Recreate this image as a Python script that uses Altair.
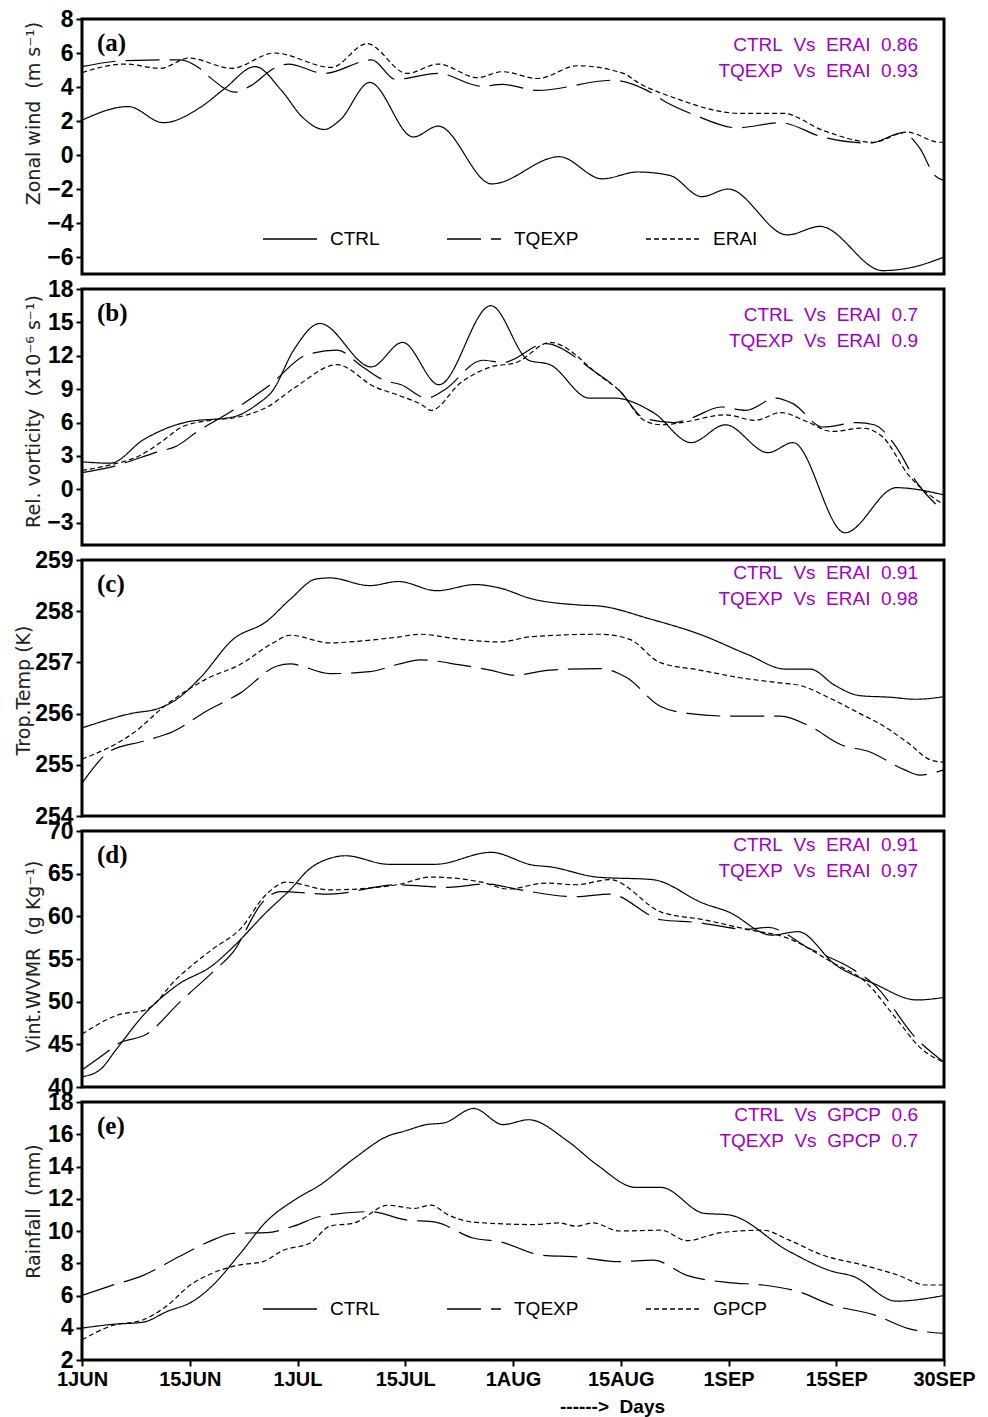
import altair as alt
import pandas as pd

# ---------------- data (day index: 0 = 1JUN ... 121 = 30SEP) ----------------
SERIES = ["CTRL", "TQEXP", "ERAI"]
SERIES_E = ["CTRL", "TQEXP", "GPCP"]

# (a) Zonal wind
A_CTRL_D = [0, 6.5, 11.4, 16.6, 20, 24.3, 28, 31, 34, 36.2, 40.4, 46.5, 50, 57.5, 67, 73, 78, 82.5, 87, 90.7, 99, 103.6, 112.4, 116.6, 121]
A_CTRL_V = [2.05, 2.85, 1.9, 2.8, 3.9, 5.2, 3.8, 2.2, 1.5, 2.05, 4.27, 1.06, 1.7, -1.7, -0.1, -1.4, -1.0, -1.2, -2.45, -2.0, -4.7, -4.2, -6.8, -6.6, -6.0]
A_TQ_D = [0, 6, 13.8, 16.5, 18, 21.5, 23.6, 27, 29, 34, 40.7, 44, 50, 56, 59, 64, 74.5, 79.3, 82, 86, 92, 98, 104, 110.6, 115.2, 117.6, 119.7, 121]
A_TQ_V = [5.2, 5.55, 5.6, 5.1, 4.55, 3.7, 4.05, 5.1, 5.35, 4.8, 5.6, 4.45, 4.8, 4.05, 4.15, 3.8, 4.4, 3.8, 3.1, 2.35, 1.6, 1.9, 1.05, 0.7, 1.3, 0.4, -1.2, -1.5]
A_ER_D = [0, 6, 11, 15, 21, 27, 35, 40, 45.6, 50, 55.5, 59, 64, 69.5, 76, 78.3, 82.9, 92.4, 98.4, 104, 111, 115.8, 120.4, 121]
A_ER_V = [4.85, 5.35, 5.1, 5.7, 5.1, 6.0, 5.15, 6.55, 4.8, 5.35, 4.55, 4.9, 4.5, 5.25, 4.8, 4.2, 3.4, 2.45, 2.45, 1.45, 0.75, 1.35, 0.75, 0.75]

# (b) Relative vorticity
B_CTRL_D = [0, 4, 8.6, 14.7, 21.2, 24.5, 26.8, 29.7, 33.4, 40.6, 45, 50.1, 57.4, 62.7, 65.7, 71.2, 74.7, 80.2, 85.5, 90.3, 96.3, 99.8, 107.1, 114.3, 121]
B_CTRL_V = [2.47, 2.35, 4.45, 6.05, 6.5, 7.6, 8.9, 12.5, 14.9, 11.0, 13.2, 9.4, 16.5, 11.6, 11.2, 8.2, 8.2, 6.9, 4.2, 5.8, 3.3, 4.2, -3.9, 0.15, -0.5]
B_TQ_D = [0, 4, 10.5, 13.3, 16.1, 21.2, 26.4, 31.6, 35.8, 39.4, 42.4, 44.8, 48.4, 50.8, 56.2, 59.1, 65.1, 71.7, 75.4, 78.9, 83.1, 85.5, 89.7, 93.2, 97.4, 99.8, 104, 108.8, 111.2, 114.3, 117.2, 121]
B_TQ_V = [1.5, 2.0, 3.35, 3.9, 5.15, 7.1, 9.4, 12.1, 12.5, 11.0, 9.8, 9.4, 8.2, 8.9, 11.6, 11.4, 13.1, 10.7, 8.9, 6.4, 6.0, 6.4, 7.4, 7.1, 8.2, 7.7, 5.6, 6.0, 5.8, 3.8, 0.6, -2.0]
B_ER_D = [0, 4, 8, 11, 14, 18, 22, 26, 30, 35.8, 41.1, 44.2, 47.7, 49, 53.2, 57.4, 61, 65.7, 72.9, 75.4, 78.9, 81.3, 84.2, 90.3, 94.5, 98.1, 101.7, 105.3, 109.5, 112.4, 116, 121]
B_ER_V = [1.7, 2.2, 3.0, 4.2, 5.6, 6.2, 6.5, 7.4, 9.2, 11.2, 9.2, 8.5, 7.6, 7.1, 9.6, 11.0, 11.4, 13.2, 10.1, 8.9, 6.2, 5.8, 6.0, 6.7, 6.2, 6.9, 6.1, 5.2, 5.5, 4.7, 1.3, -1.4]

# (c) Tropospheric temperature
C_CTRL_D = [0, 7.2, 10.5, 13.3, 16.6, 21.2, 25.9, 29.2, 32.9, 34.8, 40.4, 44.4, 49.8, 55.2, 58.7, 62.9, 69.9, 72.7, 79.7, 86.7, 93.5, 98.7, 102.2, 105.7, 109.2, 113.4, 117, 121]
C_CTRL_V = [255.72, 256.01, 256.09, 256.28, 256.7, 257.45, 257.8, 258.23, 258.63, 258.65, 258.5, 258.58, 258.4, 258.52, 258.45, 258.25, 258.12, 258.1, 257.85, 257.55, 257.15, 256.87, 256.87, 256.55, 256.35, 256.32, 256.28, 256.33]
C_TQ_D = [0, 4, 8.6, 12.8, 17.5, 22.2, 27.4, 29.2, 34.8, 40.4, 44.6, 47.4, 53.1, 57.3, 60.6, 65.7, 72.7, 76.5, 81.1, 85.3, 91, 98, 102.2, 106.4, 110.6, 115.5, 117.6, 121]
C_TQ_V = [254.64, 255.27, 255.46, 255.65, 256.05, 256.4, 256.93, 256.97, 256.78, 256.82, 256.97, 257.05, 256.95, 256.85, 256.75, 256.85, 256.88, 256.7, 256.15, 256.0, 255.95, 255.95, 255.75, 255.4, 255.25, 254.9, 254.8, 254.9]
C_ER_D = [0, 7.2, 11.9, 17.5, 22.2, 26.8, 29.2, 34.8, 37.6, 44.6, 47.4, 53.1, 58.7, 62.9, 72.7, 76.9, 81.1, 86.7, 92.4, 98, 100.8, 105, 109.2, 112, 116.2, 119, 121]
C_ER_V = [255.11, 255.62, 256.18, 256.68, 256.96, 257.38, 257.53, 257.38, 257.4, 257.5, 257.55, 257.45, 257.4, 257.5, 257.55, 257.45, 257.0, 256.85, 256.7, 256.6, 256.55, 256.3, 256.0, 255.8, 255.4, 255.1, 255.05]

# (d) Vertically integrated water vapour mixing ratio
D_CTRL_D = [0, 2.5, 4.9, 8.6, 13.3, 18.4, 21.2, 25.9, 29.2, 32, 34.8, 37, 43, 49.6, 57.4, 63.3, 65.7, 72.3, 80.1, 87.3, 90.8, 96.8, 100.5, 105.8, 111.2, 117.2, 121]
D_CTRL_V = [41.2, 42.0, 44.5, 48.4, 51.9, 54.3, 56.4, 60.5, 63.1, 65.6, 66.8, 67.1, 66.1, 66.1, 67.5, 66.0, 65.8, 64.6, 64.3, 61.5, 60.5, 57.8, 58.2, 54.3, 52.1, 50.2, 50.5]
D_TQ_D = [0, 3.5, 4.9, 9.1, 13.8, 18.4, 21.2, 25.4, 27.8, 34.8, 44.2, 51.4, 56.7, 61.5, 69.3, 74.1, 81.3, 86.1, 93.2, 96.3, 102.2, 108.2, 111.2, 117.2, 121]
D_TQ_V = [42.0, 44.1, 45.0, 46.2, 50.0, 53.5, 55.8, 61.7, 62.9, 62.6, 63.7, 63.4, 63.8, 63.1, 62.3, 62.6, 59.6, 59.3, 58.5, 58.7, 56.2, 53.8, 52.0, 45.6, 42.9]
D_ER_D = [0, 4.9, 9.1, 13.3, 18.4, 22.2, 25.9, 28.7, 34.8, 44.2, 49, 56.1, 59.8, 65.1, 69.3, 74.1, 81.3, 87.3, 93.2, 99.2, 105.3, 110, 114.3, 117.8, 121]
D_ER_V = [46.2, 48.4, 49.1, 52.7, 56.2, 58.5, 62.6, 64.0, 63.1, 63.7, 64.6, 64.0, 63.2, 63.9, 63.7, 64.3, 60.5, 59.6, 58.5, 57.4, 54.6, 52.3, 48.0, 44.5, 42.9]

# (e) Rainfall
E_CTRL_D = [0, 4, 8.6, 11.9, 15.6, 18.4, 22.2, 25.9, 30.1, 33.4, 38.2, 43, 45.3, 48.4, 50.8, 55, 59.1, 62.7, 68.1, 72.3, 77.8, 81.3, 87.3, 90.8, 99.2, 105.3, 108.2, 114.3, 121]
E_CTRL_V = [3.98, 4.2, 4.35, 5.0, 5.65, 6.65, 8.6, 10.6, 12.0, 12.85, 14.5, 15.9, 16.2, 16.6, 16.7, 17.6, 16.6, 16.9, 15.6, 14.1, 12.7, 12.7, 11.1, 11.0, 8.75, 7.5, 7.2, 5.65, 6.0]
E_TQ_D = [0, 4, 8.6, 13.8, 18.4, 21.2, 25.9, 29.7, 33.4, 40.6, 45.3, 49.6, 55, 58.5, 64.6, 69.3, 75.4, 80.2, 84.9, 90.8, 95.6, 100.5, 105.3, 111.2, 116, 121]
E_TQ_V = [6.0, 6.6, 7.25, 8.45, 9.45, 9.85, 9.9, 10.3, 10.9, 11.2, 10.7, 10.55, 9.55, 9.35, 8.5, 8.4, 8.1, 8.2, 7.25, 6.8, 6.65, 6.25, 5.4, 4.8, 3.95, 3.65]
E_GP_D = [0, 4, 8.6, 11.9, 15.2, 18.4, 22.2, 25.4, 28.2, 32, 34.8, 38.2, 43, 46.6, 49, 51.4, 55, 63.3, 67, 69.3, 71.7, 75.4, 81.3, 84.9, 89.7, 95.6, 99.2, 104, 109.5, 114.3, 118.5, 121]
E_GP_V = [3.25, 4.1, 4.5, 5.35, 6.65, 7.4, 7.9, 8.1, 8.8, 9.25, 10.3, 10.5, 11.6, 11.4, 11.6, 11.0, 10.55, 10.4, 10.5, 10.3, 10.5, 10.0, 10.05, 9.4, 9.9, 10.05, 9.45, 8.5, 7.9, 7.3, 6.65, 6.65]

X_TICKS = [0, 15.125, 30.25, 45.375, 60.5, 75.625, 90.75, 105.875, 121]
X_LABELS = ["1JUN", "15JUN", "1JUL", "15JUL", "1AUG", "15AUG", "1SEP", "15SEP", "30SEP"]

CORR = {
    "a": ["CTRL  Vs  ERAI  0.86", "TQEXP  Vs  ERAI  0.93"],
    "b": ["CTRL  Vs  ERAI  0.7", "TQEXP  Vs  ERAI  0.9"],
    "c": ["CTRL  Vs  ERAI  0.91", "TQEXP  Vs  ERAI  0.98"],
    "d": ["CTRL  Vs  ERAI  0.91", "TQEXP  Vs  ERAI  0.97"],
    "e": ["CTRL  Vs  GPCP  0.6", "TQEXP  Vs  GPCP  0.7"],
}

DASHES = [[1, 0], [34, 10], [5, 3]]
PURPLE = "#a000c8"
W = 862


def nb(s):
    return s.replace(" ", "\u00a0")


def panel(label, names, series, ydom, yticks, ytitle, title_x, title_y,
          height, corr_y, legend_y=None, show_x=False):
    rows = []
    for name, (d, v) in zip(names, series):
        for a, b in zip(d, v):
            rows.append({"day": a, "val": b, "series": name})
    df = pd.DataFrame(rows)

    if legend_y is not None:
        legend = alt.Legend(orient="none", legendX=180, legendY=legend_y,
                            direction="horizontal", title=None,
                            symbolType="stroke", symbolSize=2916,
                            symbolStrokeWidth=1.6, symbolStrokeColor="black",
                            labelFontSize=19, labelFont="Liberation Sans",
                            labelColor="black", labelOffset=12,
                            columnPadding=63, padding=0)
    else:
        legend = None

    if show_x:
        xaxis = alt.Axis(values=X_TICKS, labelExpr=f"{X_LABELS}[round(datum.value / 15.125)]",
                         title=nb("------>  Days"), labelFontSize=20, labelFlush=False,
                         labelPadding=3, titleFontSize=19, titleFont="Liberation Sans",
                         titleFontWeight="bold",
                         titleColor="black", titleX=530, titleY=46,
                         titleAlign="center", titleBaseline="middle")
    else:
        xaxis = None

    yaxis = alt.Axis(values=yticks, title=nb(ytitle), titleX=title_x, titleY=title_y,
                     titleAlign="center", titleBaseline="middle", labelPadding=3)

    lines = alt.Chart(df).mark_line(color="black", strokeWidth=1.2,
                                    interpolate="monotone", clip=True).encode(
        x=alt.X("day:Q", scale=alt.Scale(domain=[0, 121], nice=False, zero=False), axis=xaxis),
        y=alt.Y("val:Q", scale=alt.Scale(domain=ydom, nice=False, zero=False), axis=yaxis),
        strokeDash=alt.StrokeDash("series:N", scale=alt.Scale(domain=names, range=DASHES),
                                  legend=legend),
    )

    lab = alt.Chart(pd.DataFrame({"t": [f"({label})"]})).mark_text(
        font="Liberation Serif", fontWeight="bold", fontSize=25,
        align="left", baseline="middle", color="black"
    ).encode(text="t:N", x=alt.value(15), y=alt.value(24))

    c1 = alt.Chart(pd.DataFrame({"t": [nb(CORR[label][0])]})).mark_text(
        font="Liberation Sans", fontSize=19, align="right", baseline="middle", color=PURPLE
    ).encode(text="t:N", x=alt.value(836), y=alt.value(corr_y))
    c2 = alt.Chart(pd.DataFrame({"t": [nb(CORR[label][1])]})).mark_text(
        font="Liberation Sans", fontSize=19, align="right", baseline="middle", color=PURPLE
    ).encode(text="t:N", x=alt.value(836), y=alt.value(corr_y + 26))

    return alt.layer(lines, lab, c1, c2).properties(width=W, height=height)


pa = panel("a", SERIES, [(A_CTRL_D, A_CTRL_V), (A_TQ_D, A_TQ_V), (A_ER_D, A_ER_V)],
           [-7, 8], list(range(-6, 9, 2)), "Zonal wind  (m s\u207b\u00b9)", -49, 94,
           255, 26, legend_y=192)
pb = panel("b", SERIES, [(B_CTRL_D, B_CTRL_V), (B_TQ_D, B_TQ_V), (B_ER_D, B_ER_V)],
           [-5, 18], list(range(-3, 19, 3)), "Rel. vorticity  (x10\u207b\u2076 s\u207b\u00b9)", -49, 122,
           256, 26)
pc = panel("c", SERIES, [(C_CTRL_D, C_CTRL_V), (C_TQ_D, C_TQ_V), (C_ER_D, C_ER_V)],
           [254, 259], list(range(254, 260)), "Trop.Temp (K)", -59, 130,
           256, 13)
pd_ = panel("d", SERIES, [(D_CTRL_D, D_CTRL_V), (D_TQ_D, D_TQ_V), (D_ER_D, D_ER_V)],
            [40, 70], list(range(40, 71, 5)), "Vint.WVMR  (g Kg\u207b\u00b9)", -49, 125,
            256, 14)
pe = panel("e", SERIES_E, [(E_CTRL_D, E_CTRL_V), (E_TQ_D, E_TQ_V), (E_GP_D, E_GP_V)],
           [2, 18], list(range(2, 19, 2)), "Rainfall  (mm)", -49, 109,
           258, 13, legend_y=179, show_x=True)

chart = alt.vconcat(pa, pb, pc, pd_, pe, spacing=15).resolve_scale(
    x="independent", y="independent", strokeDash="independent"
).resolve_legend(strokeDash="independent").properties(
    bounds="flush",
    padding={"left": 12, "top": 6, "right": 10, "bottom": 0},
    background="white",
).configure_view(
    stroke="black", strokeWidth=3
).configure_axis(
    domain=False, grid=False, tickColor="black", tickWidth=2, tickSize=6,
    labelColor="black", labelFont="Liberation Sans", labelFontSize=23, labelFontWeight="bold",
    titleFont="DejaVu Sans", titleFontSize=19, titleFontWeight="normal", titleColor="#222222",
)

chart.save("out.html", embed_options={"renderer": "svg", "actions": False})
